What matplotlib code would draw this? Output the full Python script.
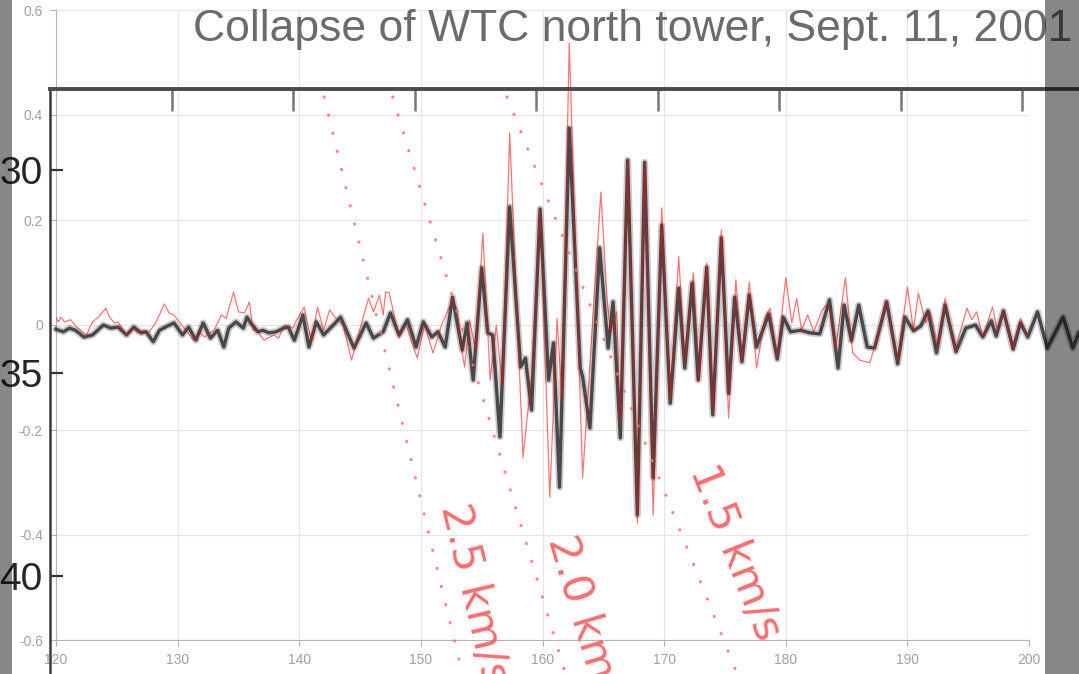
import numpy as np
import matplotlib.pyplot as plt
from matplotlib import font_manager
from matplotlib.patches import Rectangle

# chart trace (thin red line): time [s], amplitude
red_t = [120.0, 120.2, 120.4, 120.7, 121.2, 121.8, 122.5, 123.0, 123.5, 124.1,
         124.4, 124.8, 125.1, 125.8, 126.3, 126.7, 127.2, 127.6, 128.2, 128.9,
         129.3, 129.7, 130.0, 130.7, 131.3, 131.8, 132.2, 133.0, 133.6, 134.0,
         134.6, 135.0, 135.5, 135.9, 136.2, 136.6, 137.1, 137.9, 138.3, 138.8,
         139.5, 139.7, 140.4, 141.0, 141.5, 142.0, 142.5, 143.0, 143.6, 144.3,
         144.9, 145.7, 146.1, 146.6, 146.9, 147.1, 147.4, 147.8, 148.2, 148.8,
         149.2, 149.7, 150.3, 151.0, 151.7, 152.6, 153.0, 153.4, 153.6, 154.0,
         154.5, 155.1, 155.7, 156.2, 156.7, 157.3, 158.4, 159.1, 159.8, 160.6,
         161.2, 161.6, 162.2, 163.3, 164.8, 165.3, 165.6, 166.1, 166.4, 167.0,
         167.8, 168.4, 169.1, 169.8, 170.5, 171.2, 171.7, 172.4, 172.9, 173.5,
         174.0, 174.7, 175.3, 175.9, 176.4, 177.0, 177.6, 178.3, 178.7, 179.3,
         180.0, 180.5, 180.9, 181.3, 181.8, 182.3, 183.0, 183.5, 184.1, 184.9,
         185.5, 186.1, 186.9, 187.5, 188.2, 189.2, 190.0, 190.5, 190.9, 191.5,
         191.9, 192.5, 193.1, 193.9, 194.9, 195.3, 195.7, 196.2, 197.0, 197.4,
         197.9, 198.6, 199.3, 199.9]
red_a = [0.013, 0.006, 0.015, 0.006, 0.010, -0.006, -0.019, 0.006, 0.015, 0.032,
         0.015, 0.004, 0.006, -0.019, -0.006, -0.015, -0.010, -0.015, 0.004, 0.040,
         0.023, 0.019, 0.010, -0.010, -0.029, -0.013, -0.023, -0.010, 0.019, 0.013,
         0.063, 0.025, 0.023, 0.044, -0.010, -0.013, -0.029, -0.019, -0.025, 0.0,
         -0.006, 0.006, 0.034, -0.032, 0.034, -0.010, 0.029, 0.013, 0.0, -0.067,
         -0.015, 0.051, 0.025, 0.057, 0.019, 0.063, 0.061, 0.019, -0.025, 0.0,
         -0.029, -0.063, 0.0, -0.053, 0.0, 0.048, 0.029, -0.053, -0.080, 0.010,
         -0.048, 0.175, -0.105, 0.0, -0.118, 0.366, -0.253, -0.095, 0.219, -0.328,
         0.013, -0.143, 0.537, -0.291, 0.253, 0.053, -0.015, 0.025, -0.190, 0.314,
         -0.377, 0.310, -0.362, 0.223, -0.143, 0.130, -0.072, 0.099, -0.105, 0.118,
         -0.168, 0.181, -0.177, 0.086, -0.067, 0.082, -0.082, 0.015, 0.032, -0.061,
         0.090, 0.004, 0.051, -0.010, 0.019, -0.013, 0.029, 0.042, -0.044, 0.090,
         -0.053, -0.067, -0.072, -0.029, 0.048, -0.067, 0.072, -0.010, 0.061, 0.004,
         0.023, -0.042, 0.051, -0.048, 0.032, 0.010, 0.025, -0.023, 0.034, -0.010,
         0.025, -0.044, 0.013, -0.023]

# overlaid seismogram trace (thick dark line): time [s], amplitude
black_t = [120.0, 120.6, 121.1, 121.6, 122.3, 123.0, 123.9, 124.5, 125.1, 125.8,
           126.4, 127.0, 127.4, 128.0, 128.5, 129.0, 129.7, 130.4, 130.9, 131.5,
           132.1, 132.7, 133.3, 133.8, 134.2, 134.8, 135.4, 135.7, 136.0, 136.6,
           137.0, 137.5, 138.1, 138.7, 139.1, 139.6, 140.3, 140.8, 141.4, 142.0,
           142.8, 143.4, 144.5, 145.5, 146.1, 146.9, 147.5, 148.2, 148.9, 149.6,
           150.2, 150.9, 151.4, 152.0, 152.6, 153.4, 153.8, 154.3, 155.0, 155.5,
           155.9, 156.5, 157.3, 158.2, 158.6, 159.1, 159.8, 160.5, 160.9, 161.4,
           162.2, 163.1, 163.3, 163.9, 164.7, 165.4, 165.8, 166.4, 167.0, 167.8,
           168.4, 169.1, 169.8, 170.5, 171.2, 171.7, 172.3, 172.8, 173.5, 174.0,
           174.7, 175.3, 175.8, 176.4, 177.0, 177.6, 178.6, 179.3, 179.8, 180.4,
           181.2, 182.0, 182.8, 183.6, 184.3, 184.8, 185.4, 186.0, 186.7, 187.3,
           188.3, 189.2, 189.8, 190.5, 191.1, 191.7, 192.4, 193.1, 194.0, 194.8,
           195.6, 196.2, 196.9, 197.3, 197.9, 198.7, 199.3, 199.9, 200.7, 201.5,
           202.8, 203.6, 204.1]
black_a = [-0.008, -0.013, -0.006, -0.010, -0.023, -0.019, 0.0, -0.006, -0.004, -0.019,
           -0.004, -0.015, -0.013, -0.032, -0.010, -0.004, 0.004, -0.019, -0.004, -0.029,
           0.004, -0.025, -0.010, -0.042, -0.006, 0.006, -0.006, 0.015, 0.004, -0.013,
           -0.010, -0.015, -0.013, -0.006, -0.004, -0.029, 0.019, -0.042, 0.006, -0.019,
           0.0, 0.015, -0.044, 0.004, -0.025, -0.013, 0.023, -0.019, 0.010, -0.042,
           0.006, -0.023, -0.013, -0.042, 0.053, -0.048, 0.004, -0.105, 0.109, -0.015,
           -0.019, -0.213, 0.225, -0.080, -0.063, -0.162, 0.221, -0.105, -0.034, -0.309,
           0.375, -0.082, -0.099, -0.196, 0.147, -0.044, 0.044, -0.215, 0.314, -0.362,
           0.310, -0.291, 0.190, -0.149, 0.070, -0.082, 0.080, -0.105, 0.110, -0.171,
           0.166, -0.130, 0.053, -0.070, 0.057, -0.042, 0.021, -0.065, 0.015, -0.013,
           -0.010, -0.015, -0.017, 0.048, -0.082, 0.038, -0.030, 0.038, -0.042, -0.044,
           0.044, -0.074, 0.015, -0.011, -0.002, 0.027, -0.053, 0.038, -0.051, -0.006,
           0.0, -0.023, 0.008, -0.021, 0.027, -0.046, 0.004, -0.023, 0.025, -0.044,
           0.015, -0.044, -0.015]

x_ticks = [120, 130, 140, 150, 160, 170, 180, 190, 200]
y_ticks = [-0.6, -0.4, -0.2, 0.0, 0.2, 0.4, 0.6]
y_tick_labels = ['-0.6', '-0.4', '-0.2', '0', '0.2', '0.4', '0.6']

# seismogram frame: time since collapse [s] and distance [km]
seis_time_ticks = [5, 10, 15, 20, 25, 30, 35, 40]
seis_dist_ticks = [30, 35, 40]
velocities = [2.5, 2.0, 1.5]
velocity_labels = ['2.5 km/s', '2.0 km/s', '1.5 km/s']
line_dist = [28.2, 43.0]
title = 'Collapse of WTC north tower, Sept. 11, 2001'

plt.rcParams['font.family'] = ['Liberation Sans', 'DejaVu Sans']
names = {f.name for f in font_manager.fontManager.ttflist}
narrow = 'Liberation Sans Narrow' in names
big_font = ['Liberation Sans Narrow', 'Liberation Sans'] if narrow else ['Liberation Sans']

W, H = 1079, 674
fig = plt.figure(figsize=(W / 100, H / 100), dpi=100)

# chart axes
ax = fig.add_axes([56 / W, 1 - 640 / H, 973 / W, 630 / H])
ax.set_xlim(120, 200)
ax.set_ylim(-0.6, 0.6)
ax.set_xticks(x_ticks)
ax.set_yticks(y_ticks)
ax.set_yticklabels(y_tick_labels)
ax.grid(color='#e6e6e6', lw=0.8)
ax.set_axisbelow(True)
ax.spines['top'].set_visible(False)
ax.spines['right'].set_visible(False)
ax.spines['left'].set_color('#b4b4b4')
ax.spines['bottom'].set_color('#b4b4b4')
ax.tick_params(colors='#b4b4b4', labelcolor='#a0a0a0', labelsize=10, length=4.5, pad=5)

ax.plot(black_t, black_a, color='#303030', lw=5, alpha=0.25,
        solid_joinstyle='round', solid_capstyle='round', clip_on=False, zorder=3)
ax.plot(black_t, black_a, color='#3a3a3a', lw=2.4, alpha=0.9,
        solid_joinstyle='round', clip_on=False, zorder=4)
ax.plot(red_t, red_a, color='red', lw=0.9, alpha=0.55, zorder=5)

# seismogram frame on top
ov = fig.add_axes([50 / W, 1 - 697.8 / H, 1050 / W, 609 / H])
ov.set_xlim(0, 43.2)
ov.set_ylim(43, 28)
ov.patch.set_alpha(0)
ov.spines['right'].set_visible(False)
ov.spines['bottom'].set_visible(False)
ov.spines['top'].set_linewidth(2.8)
ov.spines['top'].set_color('#4a4a4a')
ov.spines['left'].set_linewidth(1.8)
ov.spines['left'].set_color('#3a3a3a')
ov.xaxis.tick_top()
ov.set_xticks(seis_time_ticks)
ov.set_xticklabels([])
ov.tick_params(axis='x', direction='in', length=16, width=1.8, color='#777777')
ov.set_yticks(seis_dist_ticks)
ov.tick_params(axis='y', direction='in', length=9.5, width=1.6, color='#333333',
               labelsize=34 if narrow else 28, labelcolor='#262626', pad=5.5)
for lab in ov.get_yticklabels():
    lab.set_family(big_font)

d = np.array(line_dist)
label_pos = [(16.1, 38.3), (20.5, 39.1), (26.3, 37.4)]
for v, text, (lt, ld) in zip(velocities, velocity_labels, label_pos):
    ov.plot(d / v, d, color='#ff7070', lw=2.2, dashes=(0.1, 6),
            dash_capstyle='round', alpha=0.85, zorder=6)
    p0 = ov.transData.transform((d[0] / v, d[0]))
    p1 = ov.transData.transform((d[1] / v, d[1]))
    ang = np.degrees(np.arctan2(p1[1] - p0[1], p1[0] - p0[0]))
    ov.text(lt, ld, text, rotation=ang, rotation_mode='anchor', ha='left',
            va='baseline', fontsize=31, color='#ff5c5c', alpha=0.9,
            family=['DejaVu Sans'], clip_on=False)

fig.text(193 / W, 1 - 41 / H, title, fontsize=39 if narrow else 32,
         color='#6b6b6b', family=big_font, ha='left', va='baseline')

# grey margins
for x0, x1 in [(0, 12), (1045, 1079)]:
    fig.add_artist(Rectangle((x0 / W, 0), (x1 - x0) / W, 1, transform=fig.transFigure,
                             color='black', alpha=0.47, lw=0, zorder=10))

fig.savefig('out.png', dpi=100)
